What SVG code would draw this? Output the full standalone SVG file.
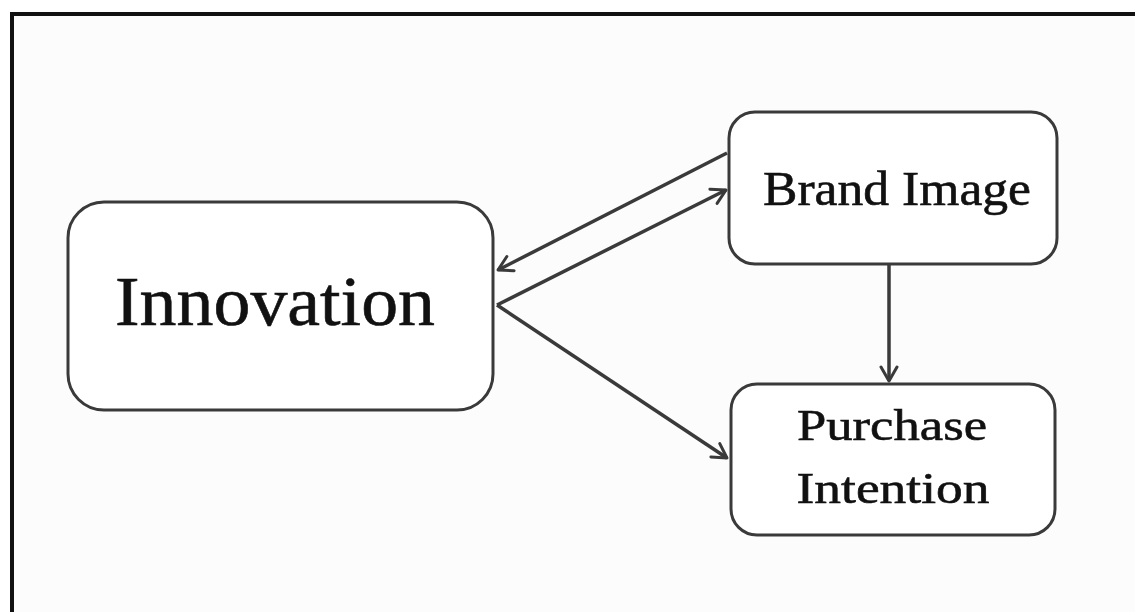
<svg xmlns="http://www.w3.org/2000/svg" width="1135" height="612" viewBox="0 0 1135 612">
<defs>
<marker id="ah" viewBox="0 0 20 20" refX="18" refY="10" markerWidth="20" markerHeight="20" markerUnits="userSpaceOnUse" orient="auto">
<path d="M4,2 L18,10 L4,18" fill="none" stroke="#3a3a3a" stroke-width="3" stroke-linecap="round" stroke-linejoin="round"/>
</marker>
<style>
.box{fill:#fff;stroke:#3a3a3a;stroke-width:3}
.lbl{font-family:"Liberation Serif","DejaVu Serif",serif;fill:#111;text-anchor:middle;stroke:#111;stroke-width:0.6}
.conn{stroke:#3a3a3a;stroke-width:3.5;fill:none;marker-end:url(#ah)}
</style>
</defs>
<rect x="0" y="0" width="1135" height="612" fill="#fff"/>
<rect x="12" y="14" width="1140" height="620" fill="#fcfcfc" stroke="#111" stroke-width="4"/>
<g id="connectors">
<line class="conn" x1="727" y1="153" x2="498" y2="270"/>
<line class="conn" x1="497" y1="305" x2="726" y2="190"/>
<line class="conn" x1="497" y1="305" x2="727" y2="458"/>
<line class="conn" x1="889" y1="265" x2="889" y2="381"/>
</g>
<g id="innovation">
<rect class="box" x="68" y="202" width="425" height="208" rx="36"/>
<text class="lbl" x="275" y="325" font-size="70" textLength="320" lengthAdjust="spacingAndGlyphs">Innovation</text>
</g>
<g id="brand-image">
<rect class="box" x="729" y="112" width="328" height="152" rx="26"/>
<text class="lbl" x="897" y="205" font-size="48" textLength="268" lengthAdjust="spacingAndGlyphs">Brand Image</text>
</g>
<g id="purchase-intention">
<rect class="box" x="731" y="384" width="324" height="151" rx="26"/>
<text class="lbl" x="892" y="440" font-size="45" textLength="190" lengthAdjust="spacingAndGlyphs">Purchase</text>
<text class="lbl" x="893" y="503" font-size="45" textLength="193" lengthAdjust="spacingAndGlyphs">Intention</text>
</g>
</svg>
